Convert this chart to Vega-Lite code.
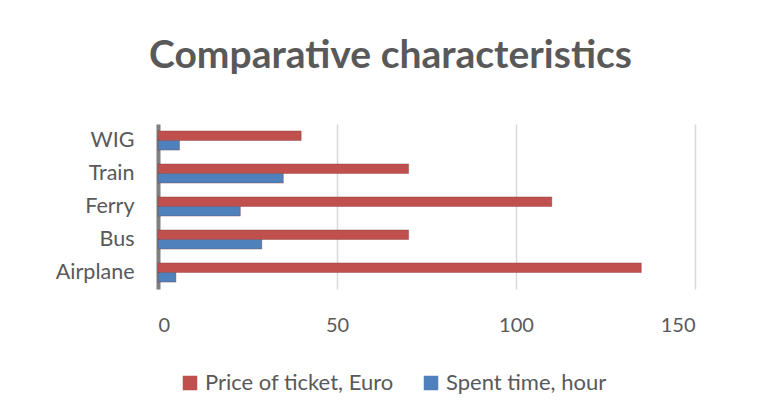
{
  "$schema": "https://vega.github.io/schema/vega-lite/v6.json",
  "width": 537,
  "height": 165,
  "autosize": {"type": "none"},
  "padding": {"left": 158, "top": 124, "right": 64, "bottom": 127},
  "background": "white",
  "title": {
    "text": "Comparative characteristics",
    "font": "Lato",
    "fontSize": 39,
    "fontWeight": "bold",
    "color": "#595959",
    "anchor": "middle",
    "frame": "group",
    "dx": -36,
    "baseline": "alphabetic",
    "offset": 17
  },
  "data": {
    "values": [
      {"mode": "Airplane", "series": "Price of ticket, Euro", "value": 135},
      {"mode": "Airplane", "series": "Spent time, hour", "value": 5},
      {"mode": "Bus", "series": "Price of ticket, Euro", "value": 70},
      {"mode": "Bus", "series": "Spent time, hour", "value": 29},
      {"mode": "Ferry", "series": "Price of ticket, Euro", "value": 110},
      {"mode": "Ferry", "series": "Spent time, hour", "value": 23},
      {"mode": "Train", "series": "Price of ticket, Euro", "value": 70},
      {"mode": "Train", "series": "Spent time, hour", "value": 35},
      {"mode": "WIG", "series": "Price of ticket, Euro", "value": 40},
      {"mode": "WIG", "series": "Spent time, hour", "value": 6}
    ]
  },
  "mark": {"type": "bar", "stroke": "#7a2f2d", "strokeOpacity": 0.35, "strokeWidth": 1},
  "encoding": {
    "y": {
      "field": "mode",
      "type": "nominal",
      "sort": ["WIG", "Train", "Ferry", "Bus", "Airplane"],
      "scale": {"paddingInner": 0.42, "paddingOuter": 0.21},
      "axis": {
        "title": null,
        "ticks": false,
        "labelPadding": 24,
        "labelFont": "Lato",
        "labelFontSize": 21.5,
        "labelColor": "#595959",
        "domainColor": "#7f7f7f",
        "domainWidth": 4,
        "grid": false
      }
    },
    "yOffset": {
      "field": "series",
      "type": "nominal",
      "sort": ["Price of ticket, Euro", "Spent time, hour"],
      "scale": {"paddingInner": 0, "paddingOuter": 0}
    },
    "x": {
      "field": "value",
      "type": "quantitative",
      "scale": {"domain": [0, 150], "nice": false},
      "axis": {
        "title": null,
        "values": [0, 50, 100, 150],
        "ticks": false,
        "domain": false,
        "grid": true,
        "gridColor": "#d9d9d9",
        "gridWidth": 1.5,
        "labelPadding": 26,
        "labelFont": "Lato",
        "labelFontSize": 20,
        "labelColor": "#595959"
      }
    },
    "color": {
      "field": "series",
      "type": "nominal",
      "scale": {"domain": ["Price of ticket, Euro", "Spent time, hour"], "range": ["#C0504D", "#4F81BD"]},
      "legend": {
        "title": null,
        "orient": "none",
        "direction": "horizontal",
        "legendX": 21,
        "legendY": 248,
        "symbolType": "square",
        "symbolSize": 210,
        "symbolStrokeWidth": 0,
        "labelFont": "Lato",
        "labelFontSize": 22,
        "labelLimit": 300,
        "labelColor": "#595959",
        "labelOffset": 4,
        "columnPadding": 26
      }
    }
  },
  "config": {"view": {"stroke": null}}
}
